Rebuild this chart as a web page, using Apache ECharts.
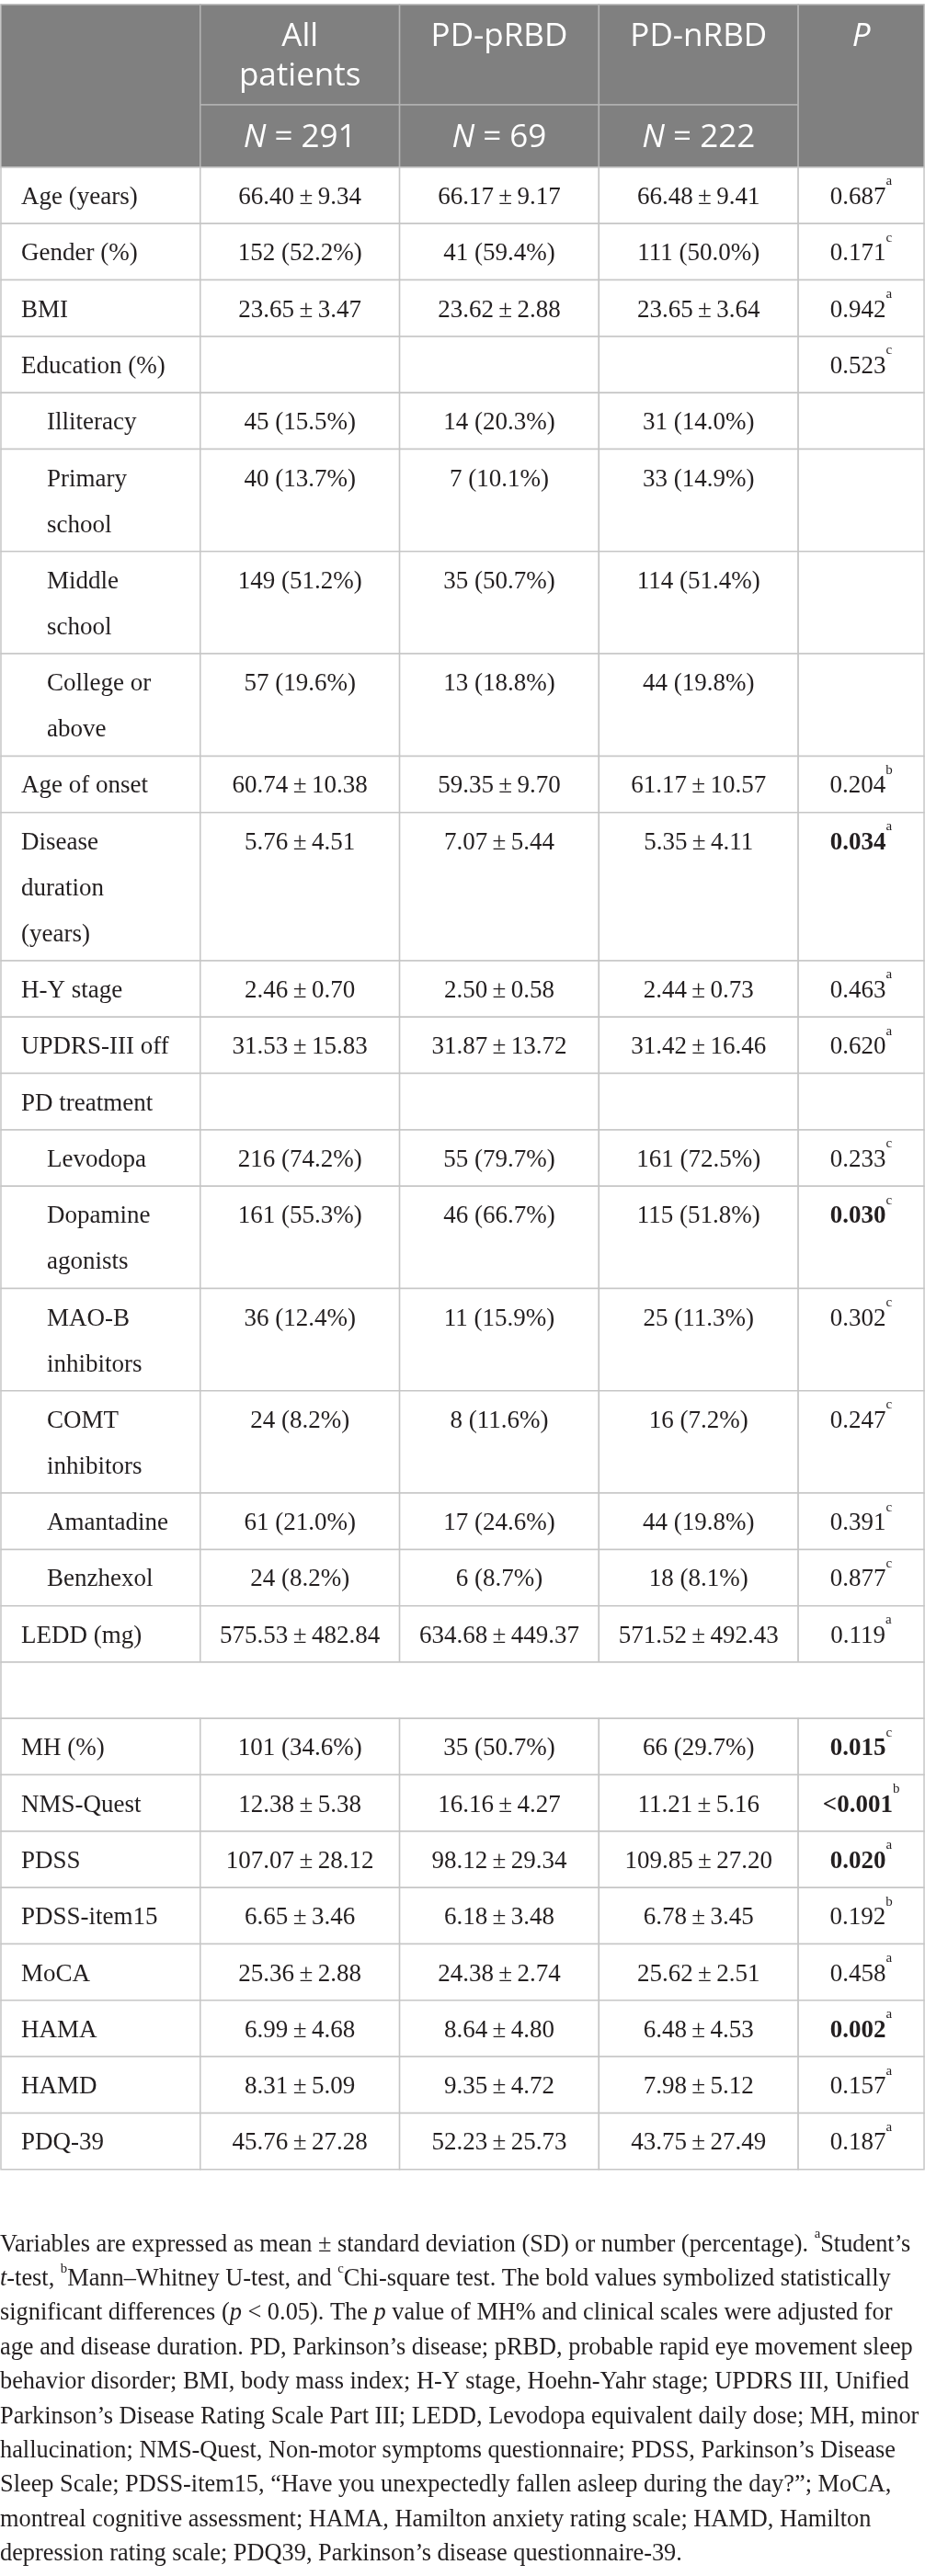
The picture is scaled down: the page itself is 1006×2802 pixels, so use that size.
<!DOCTYPE html>
<html>
<head>
<meta charset="utf-8">
<script src="https://cdn.jsdelivr.net/npm/echarts@6/dist/echarts.min.js"></script>
<style>
html, body { margin: 0; padding: 0; background: #fff; }
#main { width: 1006px; height: 2802px; }
</style>
</head>
<body>
<div id="main"></div>
<script>
/* table data */
var headerTop = ['', 'All\npatients', 'PD-pRBD', 'PD-nRBD', 'P'];
var headerN = ['', '291', '69', '222', ''];

var rowLabels = ['Age (years)', 'Gender (%)', 'BMI', 'Education (%)', 'Illiteracy',
    'Primary\nschool', 'Middle\nschool', 'College or\nabove', 'Age of onset',
    'Disease\nduration\n(years)', 'H-Y stage', 'UPDRS-III off', 'PD treatment',
    'Levodopa', 'Dopamine\nagonists', 'MAO-B\ninhibitors', 'COMT\ninhibitors',
    'Amantadine', 'Benzhexol', 'LEDD (mg)', '', 'MH (%)', 'NMS-Quest', 'PDSS',
    'PDSS-item15', 'MoCA', 'HAMA', 'HAMD', 'PDQ-39'];
var subRows = ['Illiteracy', 'Primary\nschool', 'Middle\nschool', 'College or\nabove',
    'Levodopa', 'Dopamine\nagonists', 'MAO-B\ninhibitors', 'COMT\ninhibitors',
    'Amantadine', 'Benzhexol'];

var allPatients = ['66.40 ± 9.34', '152 (52.2%)', '23.65 ± 3.47', '', '45 (15.5%)',
    '40 (13.7%)', '149 (51.2%)', '57 (19.6%)', '60.74 ± 10.38', '5.76 ± 4.51',
    '2.46 ± 0.70', '31.53 ± 15.83', '', '216 (74.2%)', '161 (55.3%)', '36 (12.4%)',
    '24 (8.2%)', '61 (21.0%)', '24 (8.2%)', '575.53 ± 482.84', '', '101 (34.6%)',
    '12.38 ± 5.38', '107.07 ± 28.12', '6.65 ± 3.46', '25.36 ± 2.88', '6.99 ± 4.68',
    '8.31 ± 5.09', '45.76 ± 27.28'];
var pdPRBD = ['66.17 ± 9.17', '41 (59.4%)', '23.62 ± 2.88', '', '14 (20.3%)',
    '7 (10.1%)', '35 (50.7%)', '13 (18.8%)', '59.35 ± 9.70', '7.07 ± 5.44',
    '2.50 ± 0.58', '31.87 ± 13.72', '', '55 (79.7%)', '46 (66.7%)', '11 (15.9%)',
    '8 (11.6%)', '17 (24.6%)', '6 (8.7%)', '634.68 ± 449.37', '', '35 (50.7%)',
    '16.16 ± 4.27', '98.12 ± 29.34', '6.18 ± 3.48', '24.38 ± 2.74', '8.64 ± 4.80',
    '9.35 ± 4.72', '52.23 ± 25.73'];
var pdNRBD = ['66.48 ± 9.41', '111 (50.0%)', '23.65 ± 3.64', '', '31 (14.0%)',
    '33 (14.9%)', '114 (51.4%)', '44 (19.8%)', '61.17 ± 10.57', '5.35 ± 4.11',
    '2.44 ± 0.73', '31.42 ± 16.46', '', '161 (72.5%)', '115 (51.8%)', '25 (11.3%)',
    '16 (7.2%)', '44 (19.8%)', '18 (8.1%)', '571.52 ± 492.43', '', '66 (29.7%)',
    '11.21 ± 5.16', '109.85 ± 27.20', '6.78 ± 3.45', '25.62 ± 2.51', '6.48 ± 4.53',
    '7.98 ± 5.12', '43.75 ± 27.49'];
var pValues = ['0.687', '0.171', '0.942', '0.523', '', '', '', '', '0.204', '0.034',
    '0.463', '0.620', '', '0.233', '0.030', '0.302', '0.247', '0.391', '0.877',
    '0.119', '', '0.015', '<0.001', '0.020', '0.192', '0.458', '0.002', '0.157', '0.187'];
var pTests = ['a', 'c', 'a', 'c', '', '', '', '', 'b', 'a', 'a', 'a', '', 'c', 'c',
    'c', 'c', 'c', 'c', 'a', '', 'c', 'b', 'a', 'b', 'a', 'a', 'a', 'a'];
var pBold = ['0.034', '0.030', '0.015', '<0.001', '0.020', '0.002'];

var footLines = [
    'Variables are expressed as mean ± standard deviation (SD) or number (percentage). {s|a}Student’s',
    '{i|t}-test, {s|b}Mann–Whitney U-test, and {s|c}Chi-square test. The bold values symbolized statistically',
    'significant differences ({i|p} < 0.05). The {i|p} value of MH% and clinical scales were adjusted for',
    'age and disease duration. PD, Parkinson’s disease; pRBD, probable rapid eye movement sleep',
    'behavior disorder; BMI, body mass index; H-Y stage, Hoehn-Yahr stage; UPDRS III, Unified',
    'Parkinson’s Disease Rating Scale Part III; LEDD, Levodopa equivalent daily dose; MH, minor',
    'hallucination; NMS-Quest, Non-motor symptoms questionnaire; PDSS, Parkinson’s Disease',
    'Sleep Scale; PDSS-item15, “Have you unexpectedly fallen asleep during the day?”; MoCA,',
    'montreal cognitive assessment; HAMA, Hamilton anxiety rating scale; HAMD, Hamilton',
    'depression rating scale; PDQ39, Parkinson’s disease questionnaire-39.'
];
var footEnds = [1002, 988, 962, 996, 993, 1002, 990, 970, 962, 751];

/* layout */
var colW = [217, 217, 217, 217, 137];
var headH = [109, 68];
var lineH = 50, rowPad = 11.3;
var serif = '"Liberation Serif", "DejaVu Serif", serif';
var sans = '"Open Sans", "Noto Sans", sans-serif';
var ink = '#231f20';
var headFill = '#808080', headLine = '#b3b3b3', bodyLine = '#c6c6c6';

var xEdge = [0];
colW.forEach(function (w) { xEdge.push(xEdge[xEdge.length - 1] + w); });

var items = [];
items.push(['h', 0, 0, headH[0], headH[0] + headH[1]]);
var yPos = headH[0] + headH[1];
rowLabels.forEach(function (lab, i) {
    var h = rowPad + lineH * lab.split('\n').length;
    items.push(['b', i, yPos, yPos + h, 0]);
    yPos += h;
});
var totalH = yPos;

function pm(s) { return s.replace(/ ± /g, '\u2009±\u2009'); }

function cellRect(api, c0, c1, y0, y1, fill, stroke) {
    var a = api.coord([xEdge[c0], y0]);
    var b = api.coord([xEdge[c1], y1]);
    return {
        type: 'rect',
        shape: {x: a[0], y: a[1], width: b[0] - a[0], height: b[1] - a[1]},
        style: {fill: fill, stroke: stroke, lineWidth: 1.5}
    };
}

function renderHeader(api) {
    var y0 = 0, y1 = headH[0], y2 = headH[0] + headH[1];
    var kids = [];
    kids.push(cellRect(api, 0, 1, y0, y2, headFill, headLine));
    for (var c = 1; c < 4; c++) {
        kids.push(cellRect(api, c, c + 1, y0, y1, headFill, headLine));
        kids.push(cellRect(api, c, c + 1, y1, y2, headFill, headLine));
    }
    kids.push(cellRect(api, 4, 5, y0, y2, headFill, headLine));
    for (var k = 1; k < 5; k++) {
        var cx = api.coord([(xEdge[k] + xEdge[k + 1]) / 2, 0])[0];
        var top = api.coord([0, y0])[1];
        kids.push({
            type: 'text',
            style: {
                text: headerTop[k], x: cx, y: top + 13.5, align: 'center', verticalAlign: 'top',
                fontFamily: sans, fontSize: 35, lineHeight: 43, fill: '#fff',
                fontStyle: k === 4 ? 'italic' : 'normal'
            }
        });
        if (headerN[k]) {
            var mid = api.coord([0, (y1 + y2) / 2])[1];
            kids.push({
                type: 'text',
                style: {
                    text: '{i|N} = ' + headerN[k], x: cx, y: mid + 2, align: 'center',
                    verticalAlign: 'middle', fontFamily: sans, fontSize: 35, fill: '#fff',
                    rich: {i: {fontFamily: sans, fontSize: 35, fontStyle: 'italic', fill: '#fff'}}
                }
            });
        }
    }
    return {type: 'group', children: kids};
}

function renderBody(api, i, y0, y1) {
    var kids = [];
    var label = rowLabels[i];
    if (label === '') {
        kids.push(cellRect(api, 0, 5, y0, y1, '#fff', bodyLine));
        return {type: 'group', children: kids};
    }
    for (var c = 0; c < 5; c++) kids.push(cellRect(api, c, c + 1, y0, y1, '#fff', bodyLine));
    var top = api.coord([0, y0])[1];
    var left = api.coord([xEdge[0], 0])[0];
    var indent = subRows.indexOf(label) >= 0 ? 50 : 22;
    kids.push({
        type: 'text',
        style: {
            text: label, x: left + indent, y: top + 8, align: 'left', verticalAlign: 'top',
            fontFamily: serif, fontSize: 27, lineHeight: lineH, fill: ink
        }
    });
    var cols = [allPatients, pdPRBD, pdNRBD];
    for (var k = 0; k < 3; k++) {
        var v = cols[k][i];
        if (!v) continue;
        var cx = api.coord([(xEdge[k + 1] + xEdge[k + 2]) / 2, 0])[0];
        kids.push({
            type: 'text',
            style: {
                text: pm(v), x: cx, y: top + 8, align: 'center', verticalAlign: 'top',
                fontFamily: serif, fontSize: 27, lineHeight: lineH, fill: ink
            }
        });
    }
    if (pValues[i]) {
        var px = api.coord([(xEdge[4] + xEdge[5]) / 2, 0])[0];
        var bold = pBold.indexOf(pValues[i]) >= 0;
        kids.push({
            type: 'text',
            style: {
                text: '{' + (bold ? 'pb' : 'pv') + '|' + pValues[i] + '}{s|' + pTests[i] + '}',
                x: px, y: top + 8, align: 'center', verticalAlign: 'top',
                fontFamily: serif, fontSize: 27, lineHeight: lineH, fill: ink,
                rich: {
                    pv: {fontFamily: serif, fontSize: 27, lineHeight: lineH, fill: ink},
                    pb: {fontFamily: serif, fontSize: 27, lineHeight: lineH, fill: ink, fontWeight: 'bold'},
                    s: {fontFamily: serif, fontSize: 15, lineHeight: 42, fill: ink, verticalAlign: 'top'}
                }
            }
        });
    }
    return {type: 'group', children: kids};
}

/* footnote size fitted to the reference line ends, never wider than the page */
var ctx = document.createElement('canvas').getContext('2d');
ctx.font = '100px ' + serif;
var ratioSum = 0, ratioMax = 1e9;
footLines.forEach(function (ln, j) {
    var plain = ln.replace(/\{s\|(\w)\}/g, '').replace(/\{i\|(\w)\}/g, '$1');
    var w = ctx.measureText(plain).width;
    ratioSum += footEnds[j] / w;
    ratioMax = Math.min(ratioMax, 1000 / w);
});
var footSize = Math.min(100 * ratioSum / footLines.length, 100 * ratioMax, 28);

var chart = echarts.init(document.getElementById('main'), null, {renderer: 'canvas'});
chart.setOption({
    animation: false,
    backgroundColor: '#fff',
    grid: {left: 1, top: 5, width: 1004, height: totalH},
    xAxis: {type: 'value', min: 0, max: xEdge[xEdge.length - 1], show: false},
    yAxis: {type: 'value', min: 0, max: totalH, inverse: true, show: false},
    graphic: [{
        type: 'text', left: 0, top: 2423,
        style: {
            text: footLines.join('\n'), fontFamily: serif, fontSize: footSize,
            lineHeight: 37.4, fill: ink,
            rich: {
                i: {fontFamily: serif, fontSize: footSize, fontStyle: 'italic', lineHeight: 37.4, fill: ink},
                s: {fontFamily: serif, fontSize: footSize * 0.56, lineHeight: 31, verticalAlign: 'top', fill: ink}
            }
        }
    }],
    series: [{
        type: 'custom',
        clip: false,
        silent: true,
        data: items,
        encode: {x: 1, y: 2},
        renderItem: function (params, api) {
            var kind = items[params.dataIndex][0];
            if (kind === 'h') return renderHeader(api);
            return renderBody(api, api.value(1), api.value(2), api.value(3));
        }
    }]
});
</script>
</body>
</html>
